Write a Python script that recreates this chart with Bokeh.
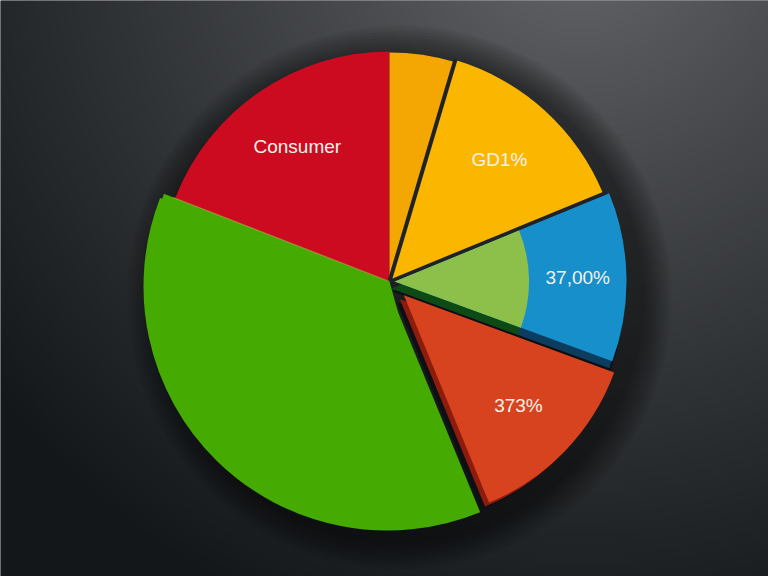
import numpy as np
from bokeh.plotting import figure
from bokeh.models import Range1d, ColumnDataSource
from bokeh.core.properties import value
from bokeh.embed import file_html
from bokeh.resources import INLINE

# ---------------- data ----------------
slice_names = ["Orange", "Yellow", "Blue", "Red-orange", "Green", "Red"]
slice_labels = ["", "GD1%", "37,00%", "373%", "", "Consumer"]
slice_shares = [4.6, 14.2, 11.8, 13.2, 37.1, 19.1]

# ---------------- style ----------------
slice_colors = ["#f4a602", "#fbb700", "#168fcb", "#d8431f", "#45ab02", "#cc0b21"]
edge_colors = ["#b06a00", "#b07a00", "#0c3c5e", "#8e1c0c", "#2a6a00", "#7a0010"]
inner_edge = "#0d4a14"
explode = [0, 0, 5, 20, 0, 0]
radius_px = [229, 231, 232, 224, 244, 230]
center_shift = [(0, 0), (0, 0), (0, 0), (0, 0), (-2, -5), (0, 0)]
drop_offset = [(0, 0), (0, 0), (-2, -10), (-7, -7), (0, 0), (0, 0)]
side_offset = [(0, 0), (0, 0), (-3, -7), (-4, -4), (0, 0), (0, 0)]
inner_color = "#8cc04a"       # inner two-tone ring of the blue slice
inner_fraction = 0.58
sep_color = "#1f2327"
W, H = 768, 576
CX, CY = 389, H - 281         # data coords (y = H - page y)

p = figure(width=W, height=H, output_backend="svg", toolbar_location=None,
           x_range=Range1d(0, W), y_range=Range1d(0, H),
           min_border=0)
p.axis.visible = False
p.grid.visible = False
p.outline_line_color = None
p.background_fill_color = "#1c1e21"
p.border_fill_color = "#1c1e21"

# background radial gradient
ii, jj = np.meshgrid(np.arange(W), np.arange(H))
px = ii + 0.5
py = H - jj - 0.5
d = np.sqrt((px - 580) ** 2 + (py + 80) ** 2)
t = np.clip(d / 760.0, 0, 1) ** 0.85
inner = np.array([0x68, 0x6a, 0x6d], float)
outer = np.array([0x14, 0x17, 0x1a], float)
rgb = inner[None, None, :] * (1 - t[..., None]) + outer[None, None, :] * t[..., None]
img = np.zeros((H, W), dtype=np.uint32)
view = img.view(dtype=np.uint8).reshape((H, W, 4))
view[..., 0] = rgb[..., 0].astype(np.uint8)
view[..., 1] = rgb[..., 1].astype(np.uint8)
view[..., 2] = rgb[..., 2].astype(np.uint8)
view[..., 3] = 255
p.image_rgba(image=[img], x=0, y=0, dw=W, dh=H)

# soft shadow under the pie
for r in range(272, 244, -3):
    p.circle(x=[CX + 10], y=[CY - 16], radius=r, fill_color="black",
             fill_alpha=0.05, line_color=None)

# geometry from data
total = float(sum(slice_shares))
theta_end = np.cumsum(slice_shares) / total * 360.0
theta_start = np.concatenate([[0.0], theta_end[:-1]])
theta_mid = (theta_start + theta_end) / 2.0

rows = []
for i in range(len(slice_shares)):
    mid = np.radians(theta_mid[i])
    ox = CX + explode[i] * np.sin(mid) + center_shift[i][0]
    oy = CY + explode[i] * np.cos(mid) + center_shift[i][1]
    rows.append(dict(x=ox, y=oy, r=radius_px[i],
                     start=np.radians(90 - theta_end[i]),
                     end=np.radians(90 - theta_start[i]),
                     color=slice_colors[i], edge=edge_colors[i]))

order = [4, 5, 0, 1, 2, 3]
for i in order:
    rw = rows[i]
    if center_shift[i] != (0, 0):
        # filler at the common centre so no seam opens up
        p.wedge(x=[CX], y=[CY], radius=min(rw["r"], 242),
                start_angle=rw["start"], end_angle=rw["end"] - 0.12,
                fill_color=rw["color"], line_color=None)
    if explode[i] > 0:
        # dark drop + 3D thickness edge
        dx, dy = drop_offset[i]
        p.wedge(x=[rw["x"] + dx], y=[rw["y"] + dy], radius=rw["r"],
                start_angle=rw["start"], end_angle=rw["end"],
                fill_color="#0c0f13", line_color=None)
        sx, sy = side_offset[i]
        p.wedge(x=[rw["x"] + sx], y=[rw["y"] + sy], radius=rw["r"],
                start_angle=rw["start"], end_angle=rw["end"],
                fill_color=rw["edge"], line_color=None)
        if slice_names[i] == "Blue":
            p.wedge(x=[rw["x"] + sx], y=[rw["y"] + sy], radius=rw["r"] * inner_fraction,
                    start_angle=rw["start"], end_angle=rw["end"],
                    fill_color=inner_edge, line_color=None)
    p.wedge(x=[rw["x"]], y=[rw["y"]], radius=rw["r"],
            start_angle=rw["start"], end_angle=rw["end"],
            fill_color=rw["color"], line_color=None)
    if slice_names[i] == "Blue":
        p.wedge(x=[rw["x"]], y=[rw["y"]], radius=rw["r"] * inner_fraction,
                start_angle=rw["start"], end_angle=rw["end"],
                fill_color=inner_color, line_color=None)

# dark separators between the right-hand slices
for k in (1, 2):
    a = np.radians(theta_start[k])
    rr = min(radius_px[k - 1], radius_px[k]) + 3
    p.segment(x0=[CX], y0=[CY], x1=[CX + rr * np.sin(a)], y1=[CY + rr * np.cos(a)],
              line_color=sep_color, line_width=4 if k == 1 else 3.5)

# subtle light seam between red and green
seam = np.radians(theta_start[5])
p.segment(x0=[CX], y0=[CY], x1=[CX + 232 * np.sin(seam)], y1=[CY + 232 * np.cos(seam)],
          line_color="#d9c060", line_alpha=0.5, line_width=1.2)

# labels
lx, ly, lt = [], [], []
for i, lab in enumerate(slice_labels):
    if not lab:
        continue
    mid = np.radians(theta_mid[i])
    if slice_names[i] == "Blue":
        rr = radius_px[i] * (1 + inner_fraction) / 2 + explode[i]
    else:
        rr = 0.71 * radius_px[i] + explode[i]
    lx.append(CX + rr * np.sin(mid))
    ly.append(CY + rr * np.cos(mid))
    lt.append(lab)
src = ColumnDataSource(dict(x=lx, y=ly, text=lt))
p.text(x="x", y="y", text="text", source=src, text_color="#f6f1e8",
       text_font=value("Liberation Sans"), text_font_size="19px",
       text_align="center", text_baseline="middle")

open("out.html", "w").write(file_html(p, INLINE))
